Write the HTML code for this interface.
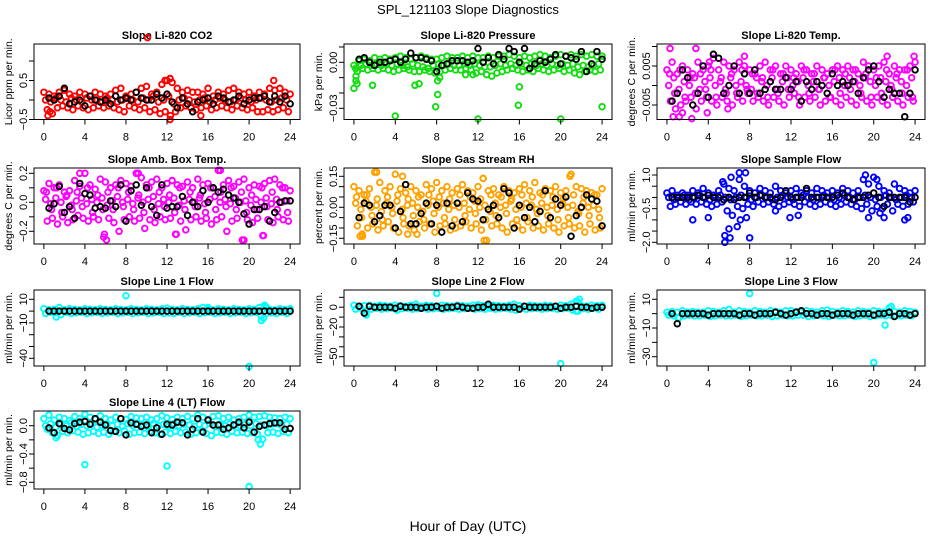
<!DOCTYPE html>
<html><head><meta charset="utf-8"><style>
html,body{margin:0;padding:0;background:#fff;}
svg{display:block;font-family:"Liberation Sans",Arial,sans-serif;}
</style></head><body>
<svg id="c" width="936" height="540" viewBox="0 0 936 540">
<text x="468" y="14" text-anchor="middle" font-size="13">SPL_121103  Slope Diagnostics</text>
<text x="468" y="531" text-anchor="middle" font-size="14">Hour of Day (UTC)</text>
</svg>
<script>
const xTicks=[0,4,8,12,16,20,24];
const hours=[0,0.5,1,1.5,2,2.5,3,3.5,4,4.5,5,5.5,6,6.5,7,7.5,8,8.5,9,9.5,10,10.5,11,11.5,12,12.5,13,13.5,14,14.5,15,15.5,16,16.5,17,17.5,18,18.5,19,19.5,20,20.5,21,21.5,22,22.5,23,23.5,24];
const blackHours=[0.5,1,1.5,2,2.5,3,3.5,4,4.5,5,5.5,6,6.5,7,7.5,8,8.5,9,9.5,10,10.5,11,11.5,12,12.5,13,13.5,14,14.5,15,15.5,16,16.5,17,17.5,18,18.5,19,19.5,20,20.5,21,21.5,22,22.5,23,23.5,24];

const co2Hi=[0.2,0.15,0.1,0.2,0.25,0.15,0.1,0.2,0.15,0.1,0.2,0.15,0.1,0.15,0.25,0.3,0.1,0.15,0.2,0.3,0.35,0.15,0.2,0.4,0.5,0.45,0.3,0.2,0.25,0.2,0.2,0.15,0.3,0.1,0.2,0.15,0.25,0.3,0.2,0.15,0.2,0.1,0.2,0.15,0.3,0.25,0.3,0.2,0.15];
const co2Mid=[0,-0.05,0.05,0,-0.05,0.05,0,-0.05,0.05,0,0,-0.05,0.05,0,-0.05,0,0.05,0,-0.05,0.05,0,0.1,-0.05,0,0.1,-0.1,0,0.05,0,-0.05,0,0.05,-0.05,0,0.05,0,-0.05,0,0.05,0,-0.05,0,0.05,0,-0.05,0,0.05,0,-0.05];
const co2Lo=[-0.25,-0.35,-0.2,-0.15,-0.2,-0.25,-0.15,-0.2,-0.25,-0.2,-0.15,-0.2,-0.15,-0.2,-0.25,-0.3,-0.15,-0.2,-0.25,-0.2,-0.3,-0.25,-0.35,-0.3,-0.4,-0.3,-0.2,-0.15,-0.2,-0.25,-0.2,-0.15,-0.25,-0.2,-0.15,-0.2,-0.25,-0.15,-0.2,-0.25,-0.2,-0.3,-0.3,-0.25,-0.3,-0.25,-0.2,-0.3,-0.2];
const co2Black=[0.05,0,0.1,0.3,-0.1,-0.05,0,-0.15,0.1,0,-0.05,0,-0.1,0.1,0,0.05,0,0.2,0.05,0,0,0.15,0.05,0.15,-0.05,-0.2,0.05,-0.1,-0.3,-0.05,0,0.05,-0.1,0.1,0.05,-0.05,0,0.1,-0.1,0,0.05,0.05,0.1,-0.05,0.1,-0.05,0.1,-0.1];
const co2OutH=[10.1,12.3,12.3,11.8,22.4,15.3,0.4,0.6];
const co2OutV=[1.6,-0.5,0.55,0.5,0.5,-0.4,-0.4,-0.3];

const presHi=[-0.002,0.001,0.002,0.001,0.003,0.002,0.003,0.002,0.003,0.004,0.003,0.002,0.003,0.004,0.003,0.002,0.002,0.003,0.004,0.003,0.003,0.004,0.003,0.004,0.003,0.003,0.004,0.003,0.004,0.004,0.005,0.004,0.003,0.004,0.003,0.004,0.005,0.004,0.003,0.004,0.005,0.004,0.005,0.004,0.005,0.004,0.005,0.004,0.004];
const presMid=[-0.004,-0.002,-0.001,-0.002,-0.001,-0.002,-0.001,-0.002,-0.001,-0.002,-0.003,-0.001,-0.002,-0.003,-0.004,-0.002,-0.001,-0.002,-0.001,-0.002,-0.002,-0.001,-0.002,-0.001,-0.002,-0.003,-0.003,-0.002,-0.001,-0.002,-0.001,-0.002,-0.001,-0.002,-0.001,-0.002,-0.001,-0.002,-0.001,-0.002,-0.001,-0.002,-0.001,-0.003,-0.002,-0.003,-0.002,-0.001,-0.002];
const presLo=[-0.006,-0.004,-0.005,-0.004,-0.005,-0.004,-0.005,-0.006,-0.005,-0.004,-0.005,-0.006,-0.006,-0.005,-0.006,-0.007,-0.006,-0.005,-0.004,-0.005,-0.005,-0.004,-0.005,-0.007,-0.006,-0.008,-0.009,-0.007,-0.006,-0.005,-0.004,-0.005,-0.006,-0.005,-0.006,-0.004,-0.005,-0.006,-0.005,-0.004,-0.006,-0.005,-0.007,-0.008,-0.006,-0.005,-0.006,-0.005,-0.004];
const presBlack=[0.002,0.003,0,-0.002,0,0,0.001,0.002,0,0.002,0.006,0.003,0.003,0.002,0.001,-0.006,-0.002,-0.001,0.001,0.001,0.001,0,0.001,0.009,0,0.003,-0.001,0.005,0.002,0.009,0.007,0,0.009,-0.004,-0.001,0.001,0,0.002,0.005,-0.001,0.004,0.003,0.002,0.007,-0.006,-0.001,0.007,0.002];
const presOutH=[0,0.2,0.3,1.8,4,5.9,6.3,7.9,8.1,8.3,8.1,12,16,15.9,20,24,0.2,10.8,11.5];
const presOutV=[-0.017,-0.012,-0.014,-0.015,-0.035,-0.015,-0.014,-0.029,-0.021,-0.010,-0.012,-0.037,-0.016,-0.028,-0.037,-0.029,-0.009,-0.008,-0.008];

const tempHi=[0.004,0.006,0.003,0.005,0.004,0.003,0.006,0.004,0.005,0.007,0.004,0.006,0.005,0.004,0.006,0.005,0.004,0.003,0.005,0.006,0.004,0.005,0.003,0.005,0.004,0.003,0.005,0.004,0.003,0.005,0.004,0.003,0.004,0.005,0.004,0.005,0.004,0.003,0.006,0.005,0.004,0.005,0.006,0.003,0.005,0.004,0.004,0.005,0.006];
const tempMid=[0,0.002,-0.001,0.001,0,0.002,-0.001,0.001,0.002,0,0.001,-0.001,0.002,0,0.001,0,-0.001,0.002,0.001,0,0.002,-0.001,0.001,0.002,0,0.001,0.002,0,0.001,-0.001,0.002,0,0.001,0.002,0,0.002,0.001,0,0.002,0.001,0,0.002,0.001,0,0.002,0.001,0,0.002,0.001];
const tempLo=[-0.004,-0.006,-0.005,-0.004,-0.003,-0.006,-0.004,-0.003,-0.004,-0.005,-0.003,-0.004,-0.005,-0.003,-0.004,-0.002,-0.004,-0.003,-0.004,-0.005,-0.003,-0.004,-0.005,-0.003,-0.002,-0.005,-0.003,-0.004,-0.003,-0.005,-0.004,-0.003,-0.004,-0.005,-0.003,-0.004,-0.005,-0.003,-0.004,-0.005,-0.003,-0.004,-0.005,-0.003,-0.004,-0.005,-0.003,-0.004,-0.002];
const tempX=[0.003,-0.002,0.004,-0.003,0.002,-0.002,0.003,-0.001,0.004,-0.003,0.002,-0.002,0.003,-0.002,0.004,-0.001,0.003,-0.002,0.002,-0.003,0.004,-0.002,0.003,-0.001,0.002,-0.003,0.004,-0.002,0.003,-0.001,0.002,-0.003,0.004,-0.002,0.003,-0.001,0.004,-0.002,0.003,-0.003,0.002,-0.002,0.004,-0.001,0.003,-0.002,0.004,-0.003,0.003];
const tempBlack=[-0.004,-0.002,0.004,0.002,-0.005,-0.002,0.005,-0.003,0.008,0.007,-0.002,0,0.005,-0.002,0.003,-0.002,0.004,-0.002,-0.001,0.001,-0.001,-0.001,0.002,-0.001,0.001,-0.004,0.001,-0.001,0.001,0,-0.002,0.003,0,0.001,0,0.001,-0.002,0.002,0.004,0.005,0.001,-0.003,-0.001,-0.002,-0.002,-0.008,-0.002,0.004];
const tempOutH=[0.3,2.8,0.6,1.2,2.4,3.9,7.5,21.3,23.9,1.5,5.9,4.1];
const tempOutV=[0.0095,0.0095,-0.008,-0.008,-0.0085,-0.007,0.0075,0.0075,0.0075,-0.007,-0.006,0.006];

const ambHi=[0.08,0.13,0.1,0.12,0.07,0.08,0.15,0.11,0.2,0.12,0.09,0.16,0.14,0.1,0.12,0.15,0.13,0.11,0.2,0.17,0.12,0.14,0.16,0.1,0.13,0.15,0.12,0.11,0.14,0.1,0.16,0.12,0.13,0.1,0.22,0.12,0.15,0.11,0.14,0.16,0.1,0.12,0.11,0.13,0.15,0.16,0.12,0.1,0.08];
const ambMid=[0.02,-0.01,0.03,0,0.04,-0.02,0.01,0.03,-0.01,0.02,0,0.03,-0.02,0.01,0.04,0,0.02,-0.01,0.03,0,0.02,0.04,-0.01,0.02,0,0.03,-0.02,0.01,0.02,0,0.03,-0.01,0.02,0.04,0,0.02,-0.01,0.03,0,0.01,-0.02,0.02,0,0.03,-0.01,0.02,0,0.01,0.02];
const ambLo=[-0.13,-0.11,-0.15,-0.1,-0.14,-0.12,-0.09,-0.11,-0.13,-0.1,-0.12,-0.24,-0.11,-0.14,-0.2,-0.12,-0.1,-0.13,-0.11,-0.18,-0.12,-0.14,-0.1,-0.12,-0.11,-0.22,-0.13,-0.19,-0.12,-0.1,-0.13,-0.11,-0.15,-0.12,-0.1,-0.2,-0.13,-0.11,-0.26,-0.12,-0.14,-0.11,-0.23,-0.12,-0.14,-0.1,-0.12,-0.13,-0.1];
const ambX=[0.07,-0.05,0.1,-0.07,0.05,-0.05,0.07,-0.03,0.1,-0.07,0.05,-0.05,0.07,-0.05,0.1,-0.03,0.07,-0.05,0.05,-0.07,0.1,-0.05,0.07,-0.03,0.05,-0.07,0.1,-0.05,0.07,-0.03,0.05,-0.07,0.1,-0.05,0.07,-0.03,0.1,-0.05,0.07,-0.07,0.05,-0.05,0.1,-0.03,0.07,-0.05,0.1,-0.07,0.07];
const ambBlack=[-0.04,-0.01,0.11,-0.07,-0.03,-0.11,0.13,0.06,0.05,-0.04,-0.03,-0.04,0.01,-0.03,0.12,-0.13,0.08,0.12,-0.02,0.1,-0.03,-0.09,0.12,-0.04,-0.03,-0.03,0.04,-0.09,0,-0.03,0.08,0,0.1,0.07,0.09,0.05,0.03,0,-0.08,-0.15,-0.05,-0.05,-0.03,-0.13,-0.07,0,0.01,0.01];
const ambOutH=[3.5,5.9,6.1,17.2,19.5,21.4,12.9,9.2];
const ambOutV=[0.2,-0.22,-0.26,0.22,-0.26,-0.23,-0.22,0.2];

const rhHi=[0.1,0.08,0.06,0.09,0.17,0.12,0.08,0.1,0.16,0.09,0.07,0.1,0.08,0.06,0.11,0.09,0.12,0.08,0.1,0.07,0.09,0.11,0.08,0.07,0.1,0.14,0.08,0.09,0.06,0.1,0.08,0.07,0.09,0.11,0.08,0.12,0.07,0.09,0.08,0.1,0.07,0.08,0.16,0.1,0.09,0.08,0.07,0.06,0.09];
const rhMid=[0.02,-0.01,0.03,0,0.01,-0.02,0.02,0,0.03,-0.01,0.01,0.02,0,-0.02,0.01,0.03,0,0.02,-0.01,0.01,0,0.02,-0.01,0.03,0,0.01,-0.02,0.02,0,0.01,0.03,-0.01,0,0.02,0.01,-0.01,0.02,0,0.01,-0.01,0.02,0,0.01,-0.02,0.02,0,0.01,-0.01,0];
const rhLo=[-0.09,-0.14,-0.1,-0.08,-0.11,-0.09,-0.07,-0.1,-0.12,-0.08,-0.09,-0.11,-0.07,-0.1,-0.08,-0.12,-0.09,-0.08,-0.11,-0.1,-0.09,-0.07,-0.1,-0.08,-0.11,-0.16,-0.09,-0.08,-0.1,-0.12,-0.08,-0.09,-0.11,-0.07,-0.1,-0.09,-0.11,-0.08,-0.1,-0.12,-0.09,-0.08,-0.1,-0.09,-0.12,-0.08,-0.11,-0.1,-0.08];
const rhX=[0.05,-0.05,0.06,-0.04,0.04,-0.06,0.05,-0.03,0.06,-0.05,0.04,-0.04,0.05,-0.06,0.06,-0.03,0.05,-0.05,0.04,-0.06,0.06,-0.04,0.05,-0.03,0.04,-0.06,0.06,-0.04,0.05,-0.03,0.04,-0.06,0.06,-0.05,0.05,-0.03,0.06,-0.04,0.05,-0.06,0.04,-0.05,0.06,-0.03,0.05,-0.04,0.06,-0.05,0.05];
const rhBlack=[-0.05,0.02,0.01,-0.07,-0.04,0.01,0.01,-0.1,-0.02,0.11,-0.08,-0.08,-0.03,0.02,-0.08,0.01,-0.12,0.02,-0.09,0.02,-0.07,0.07,0.04,0.03,-0.06,-0.01,0.01,-0.05,0.09,0.07,-0.1,0.01,-0.05,0,-0.07,-0.02,0.08,-0.05,0.04,0.01,0.05,-0.14,-0.04,0,0.06,0.04,0.03,-0.09];
const rhOutH=[0.6,0.8,2.2,4.7,12.6,12.5,20.9,5.2,6.1];
const rhOutV=[-0.14,-0.13,0.17,0.15,-0.16,0.14,0.15,-0.13,-0.13];

const flowHi=[0.2,0.3,0.1,0.2,0.1,0.3,0.2,0.4,0.2,0.1,0.3,0.6,0.4,0.3,0.8,0.5,0.3,0.2,0.4,0.3,0.2,0.5,0.3,0.2,0.3,0.4,0.2,0.3,0.2,0.4,0.3,0.2,0.3,0.2,0.4,0.3,0.2,0.3,0.8,0.6,0.9,0.5,0.3,0.2,0.6,0.4,0.3,0.2,0.3];
const flowMid=[0,-0.1,0,0.1,-0.1,0,0.1,0,-0.1,0,0.1,0,-0.1,0,0.1,0,-0.1,0,0.1,0,-0.1,0,0.1,0,-0.1,0,0.1,0,-0.1,0,0.1,0,-0.1,0,0.1,0,-0.1,0,0.1,0,-0.1,0,0.1,0,-0.1,0,0.1,0,0];
const flowLo=[-0.4,-0.3,-0.2,-0.3,-0.2,-0.3,-0.2,-0.3,-0.4,-0.3,-0.2,-0.6,-0.8,-0.4,-0.5,-0.3,-0.4,-0.2,-0.3,-0.2,-0.3,-0.4,-0.3,-0.2,-0.3,-0.4,-0.2,-0.3,-0.4,-0.3,-0.2,-0.3,-0.4,-0.3,-0.2,-0.3,-0.4,-0.5,-0.3,-0.6,-0.4,-0.5,-0.3,-0.6,-0.3,-0.4,-0.3,-0.2,-0.3];
const flowBlack=[0,0,0,0,0,0.1,0,0.1,0,0,-0.1,0,-0.1,0,0,0.2,0,0.1,0,0,-0.1,0,0.3,0,0,0,0.4,0,0,0,0,0,0.1,0.2,0,-0.1,0,0,0.1,0.2,0,-0.4,0,0,0,0,-0.2,0];
const flowOutH=[2.5,4,5.6,5.6,6,6.1,6.8,5.4,6.2,7,7.6,7.1,8,7.7,10.5,11.9,12.7,19.2,19.5,20.3,20.6,21,23,23.3];
const flowOutV=[-1.0,-0.9,-1.7,-2.0,-1.4,-1.8,-1.3,0.7,0.9,1.1,1.1,-1.0,-1.8,-0.9,-0.6,-0.9,-0.8,1.0,-0.9,0.8,-0.7,-0.9,-1.0,-0.9];

const l1Hi=[2,1,1.5,3,1,2,1.5,1,2,1.5,1,2,1.5,1,2,1.5,1,2,1.5,1,2,1.5,1,2,2.5,1.5,1,2,1.5,1,2,3,1.5,1,2,1.5,1,2,1.5,1,2,1.5,3,5,1.5,1,2,1.5,2];
const l1Lo=[-2,-1,-1.5,-3,-1,-2,-1.5,-1,-2,-1.5,-1,-2,-1.5,-1,-2,-1.5,-1,-2,-1.5,-1,-2,-1.5,-1,-2,-1.5,-2,-1,-2,-1.5,-1,-2,-1.5,-1,-2,-1.5,-1,-2,-1.5,-1,-2,-1.5,-1,-4,-2,-1.5,-2,-1,-2,-1.5];
const l1Black=[0,0,0,0,0,0,0,0,0,0,0,0,0,0,0,0,0,0,0,0,0,0,0,0,0,0,0,0,0,0,0,0,0,0,0,0,0,0,0,0,0,0,0,0,0,0,0,0];
const l1OutH=[8,20,21.2,21.4,21.6,21.7,1.2,16];
const l1OutV=[13,-47,-8,-6,4,3,-5,3];

const l2Hi=[2,1,1.5,2,1,2,1.5,1,2,1.5,1,2,3,1,2,1.5,1,2,1.5,1,2,1.5,1,2,2.5,1.5,1,2,1.5,1,2,3,1.5,1,2,1.5,1,2,1.5,1,2,1.5,3,6,1.5,1,2,1.5,2];
const l2Lo=[-2,-1,-6,-2,-1,-2,-1.5,-1,-3,-1.5,-1,-2,-1.5,-1,-2,-1.5,-1,-2,-1.5,-1,-2,-1.5,-1,-2,-1.5,-2,-1,-2,-1.5,-1,-2,-3,-1,-2,-1.5,-1,-2,-1.5,-1,-2,-1.5,-1,-3,-4,-1.5,-2,-1,-2,-1.5];
const l2Black=[1,-6,1,0,0,0,0,-1,1,0,0,0,-1,0,0,1,-1,0,0,1,0,-1,-1,0,0,3,0,0,0,0,0,-2,1,0,0,0,0,0,1,-1,0,0,1,0,0,-1,0,0];
const l2OutH=[8,20,21.6,21.8,21.5,1.2];
const l2OutV=[14,-57,6,8,-4,-8];

const l3Hi=[1,1.5,1,2,1,1.5,1,1,2,1.5,1,2,3,1,2,1.5,1,2,1.5,1,2,1.5,1,2,2,1.5,1,2,1.5,1,2,2.5,1.5,1,2,1.5,1,2,1.5,1,2,1.5,1,4,1.5,1,2,1.5,1];
const l3Lo=[-1,-1.5,-3,-1.5,-1,-1.5,-1.5,-1,-2,-1.5,-1,-1.5,-1.5,-1,-2,-1.5,-1,-1.5,-1.5,-1,-2,-1.5,-1,-1.5,-1.5,-1,-1,-2,-1.5,-1,-1.5,-2,-1,-1.5,-1.5,-1,-2,-1.5,-1,-2,-1.5,-1,-1.5,-1,-1.5,-1.5,-1,-1.5,-1];
const l3Black=[0,-7,0,0,0,0,0,-1,0,0,0,0,0,-1,0,0,-1,0,0,0,1,0,-1,0,1,2,0,0,-1,0,0,-1,0,0,0,-1,0,0,0,-1,0,0,1,-2,0,0,-1,0];
const l3OutH=[8,20,21.1,21.7,1.1];
const l3OutV=[14,-34,-8,5,-3];

const l4Hi=[0.1,0.15,0.08,0.12,0.1,0.07,0.13,0.1,0.16,0.12,0.09,0.14,0.1,0.08,0.12,0.1,0.09,0.13,0.11,0.1,0.12,0.08,0.1,0.14,0.11,0.09,0.12,0.1,0.13,0.1,0.15,0.12,0.09,0.13,0.14,0.1,0.12,0.08,0.1,0.12,0.15,0.12,0.13,0.14,0.12,0.11,0.1,0.12,0.1];
const l4Mid=[0,0.03,-0.02,0.02,0,0.04,-0.01,0.02,0,0.03,-0.02,0.01,0.03,0,0.02,-0.01,0.03,0,0.02,0.01,-0.02,0.03,0,0.02,-0.01,0.03,0,0.02,0.01,-0.01,0.02,0,0.03,-0.01,0.02,0,0.03,0.01,-0.01,0.02,0,0.03,0.01,0,0.02,0.03,0,0.02,0];
const l4Lo=[-0.05,-0.1,-0.14,-0.08,-0.1,-0.07,-0.09,-0.12,-0.1,-0.08,-0.11,-0.09,-0.12,-0.08,-0.1,-0.07,-0.12,-0.1,-0.09,-0.11,-0.08,-0.1,-0.12,-0.09,-0.11,-0.08,-0.1,-0.09,-0.12,-0.1,-0.08,-0.11,-0.14,-0.09,-0.1,-0.12,-0.08,-0.1,-0.09,-0.11,-0.1,-0.12,-0.19,-0.1,-0.09,-0.11,-0.08,-0.1,-0.09];
const l4Black=[-0.03,-0.1,0.03,-0.04,-0.06,0.03,0.05,0.06,0.02,0.1,0.05,0.01,-0.07,-0.08,0.1,-0.13,0.04,0.02,-0.01,0.01,-0.1,-0.03,-0.12,0.02,0.01,0.05,0.04,-0.13,-0.05,0.1,-0.09,0.08,0.01,0.01,-0.05,-0.03,0.01,0.05,-0.03,0.05,-0.09,-0.01,0.01,0.03,0.04,0.04,-0.05,-0.04];
const l4OutH=[4,12,20,21.1,1.2,20.9];
const l4OutV=[-0.55,-0.57,-0.86,-0.26,-0.17,-0.2];

const co2Ticks=[-0.5,0,0.5,1], co2Labels=["-0.5","","0.5",""];
const presTicks=[0.01,0,-0.01,-0.02,-0.03], presLabels=["","0.00","","","-0.03"];
const tempTicks=[0.01,0.005,0,-0.005], tempLabels=["","0.005","","-0.005"];
const ambTicks=[0.2,0.1,0,-0.1,-0.2], ambLabels=["0.2","","0.0","","-0.2"];
const rhTicks=[0.15,0.1,0.05,0,-0.05,-0.1,-0.15], rhLabels=["0.15","","","0.00","","","-0.15"];
const flowTicks=[1,0.5,0,-0.5,-1,-1.5,-2], flowLabels=["1.0","","","-0.5","","","-2.0"];
const l1Ticks=[10,0,-10,-20,-30,-40], l1Labels=["10","","-10","","","-40"];
const l2Ticks=[10,0,-10,-20,-30,-40,-50], l2Labels=["","0","","-20","","","-50"];
const l3Ticks=[10,0,-10,-20,-30], l3Labels=["10","","-10","","-30"];
const l4Ticks=[0,-0.2,-0.4,-0.6,-0.8], l4Labels=["0.0","","-0.4","","-0.8"];

const NS="http://www.w3.org/2000/svg";
const svg=document.getElementById('c');
function mk(tag,attrs,parent){const e=document.createElementNS(NS,tag);for(const k in attrs)e.setAttribute(k,attrs[k]);(parent||svg).appendChild(e);return e;}
const cols=[[34,300],[344,612],[657,925]];
const rows=[[44,119.5],[168,244],[290,366],[411,489]];
const panels=[
 {key:'co2',title:'Slope Li-820 CO2',ylab:'Licor ppm per min.',c:0,r:0,a:[0,100,1,61],col:'#ff0000',series:[co2Hi,co2Mid,co2Lo],black:co2Black,oh:co2OutH,ov:co2OutV,ticks:co2Ticks,labels:co2Labels},
 {key:'pressure',title:'Slope Li-820 Pressure',ylab:'kPa per min.',c:1,r:0,a:[0,62.3,-0.03,108.3],col:'#11dd11',series:[presHi,presMid,presLo],black:presBlack,oh:presOutH,ov:presOutV,ticks:presTicks,labels:presLabels},
 {key:'temp',title:'Slope Li-820 Temp.',ylab:'degrees C per min.',c:2,r:0,a:[0,85.5,0.005,66],col:'#ff00ff',series:[tempHi,tempMid,tempLo,tempX],black:tempBlack,oh:tempOutH,ov:tempOutV,ticks:tempTicks,labels:tempLabels},
 {key:'amb',title:'Slope Amb. Box Temp.',ylab:'degrees C per min.',c:0,r:1,a:[0,202.3,0.2,173.3],col:'#ff00ff',series:[ambHi,ambMid,ambLo,ambX],black:ambBlack,oh:ambOutH,ov:ambOutV,ticks:ambTicks,labels:ambLabels},
 {key:'rh',title:'Slope Gas Stream RH',ylab:'percent per min.',c:1,r:1,a:[0,207.3,0.15,176.3],col:'#ffa200',series:[rhHi,rhMid,rhLo,rhX],black:rhBlack,oh:rhOutH,ov:rhOutV,ticks:rhTicks,labels:rhLabels},
 {key:'sample-flow',title:'Slope Sample Flow',ylab:'ml/min per min.',c:2,r:1,a:[1,175,-2,242.3],col:'#0000ff',series:[flowHi,flowMid,flowLo],black:flowBlack,oh:flowOutH,ov:flowOutV,ticks:flowTicks,labels:flowLabels},
 {key:'line1',title:'Slope Line 1 Flow',ylab:'ml/min per min.',c:0,r:2,a:[10,299.3,-40,358.3],col:'#00ffff',series:[l1Hi,l1Lo],black:l1Black,oh:l1OutH,ov:l1OutV,ticks:l1Ticks,labels:l1Labels},
 {key:'line2',title:'Slope Line 2 Flow',ylab:'ml/min per min.',c:1,r:2,a:[10,297.3,-50,356.7],col:'#00ffff',series:[l2Hi,l2Lo],black:l2Black,oh:l2OutH,ov:l2OutV,ticks:l2Ticks,labels:l2Labels},
 {key:'line3',title:'Slope Line 3 Flow',ylab:'ml/min per min.',c:2,r:2,a:[10,299.3,-30,356.7],col:'#00ffff',series:[l3Hi,l3Lo],black:l3Black,oh:l3OutH,ov:l3OutV,ticks:l3Ticks,labels:l3Labels},
 {key:'line4',title:'Slope Line 4 (LT) Flow',ylab:'ml/min per min.',c:0,r:3,a:[0,425.7,-0.8,482.3],col:'#00ffff',series:[l4Hi,l4Mid,l4Lo],black:l4Black,oh:l4OutH,ov:l4OutV,ticks:l4Ticks,labels:l4Labels}
];
panels.forEach(p=>{
 const [L,R]=cols[p.c],[T,B]=rows[p.r];
 const xs=h=>L+(R-L)*(h+0.96)/25.92;
 const ys=v=>p.a[1]+(v-p.a[0])*(p.a[3]-p.a[1])/(p.a[2]-p.a[0]);
 const g=mk('g',{});
 
 
 const t=mk('text',{x:(L+R)/2,y:T-5,'text-anchor':'middle','font-size':11,'font-weight':'bold'},g);
 t.textContent=p.title;
 
 
 const yl=mk('text',{transform:`translate(${L-22},${(T+B)/2}) rotate(-90)`,'text-anchor':'middle','font-size':10.5},g);
 yl.textContent=p.ylab;
 
 
 const pts=mk('g',{fill:'none','stroke-width':1.9},g);
 
 
 const offs=[0,0.17,0.33,0.25];
 p.series.forEach((s,si)=>{s.forEach((v,i)=>{const h=hours[i]+offs[si];if(h>24.1)return;
  const c=mk('circle',{cx:xs(h),cy:ys(v),r:2.8,stroke:p.col},pts);
  
  });});
 p.oh.forEach((h,i)=>{const c=mk('circle',{cx:xs(h),cy:ys(p.ov[i]),r:2.8,stroke:p.col},pts);
  
  });
 p.black.forEach((v,i)=>{const c=mk('circle',{cx:xs(blackHours[i]),cy:ys(v),r:2.8,stroke:'#000'},pts);
  
  });
 const box=mk('rect',{x:L,y:T,width:R-L,height:B-T,fill:'none',stroke:'#000','stroke-width':1},g);
 
 
 xTicks.forEach(h=>{const x=xs(h);
  mk('line',{x1:x,x2:x,y1:B,y2:B+5,stroke:'#000'},g);
  const tl=mk('text',{x:x,y:B+21,'text-anchor':'middle','font-size':11},g);
  tl.textContent=h;
  
  });
 p.ticks.forEach((v,i)=>{const y=ys(v);if(y<T-1||y>B+1)return;
  mk('line',{x1:L-5,x2:L,y1:y,y2:y,stroke:'#000'},g);
  if(p.labels[i]){const tl=mk('text',{transform:`translate(${L-7},${y}) rotate(-90)`,'text-anchor':'middle','font-size':11},g);
   tl.textContent=p.labels[i].replace('-','\u2212');
   
   }});
});
</script>
</body></html>
